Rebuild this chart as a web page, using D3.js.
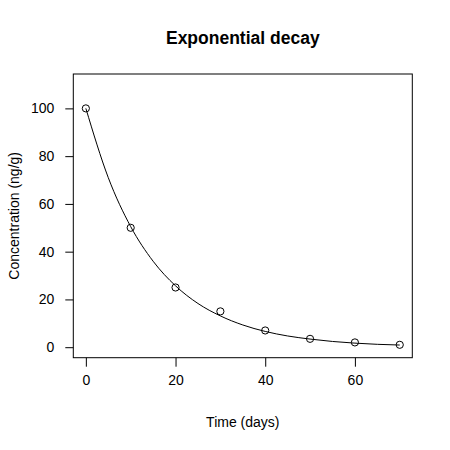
<!DOCTYPE html>
<html>
<head>
<meta charset="utf-8">
<script src="https://cdn.jsdelivr.net/npm/d3@7"></script>
<style>
    body { margin: 0; background: #fff; }
    text { font-family: "Liberation Sans", Arial, sans-serif; fill: #000; }
</style>
</head>
<body>
<svg id="chart" width="450" height="450"></svg>
<script>
// observed samples
let days = [0, 10, 20, 30, 40, 50, 60, 70];
let concentration = [100, 50, 25, 15, 7, 3.5, 2, 1];

// fitted curve
let curveDays = [0, 5, 10, 15, 20, 25, 30, 35, 40, 45, 50, 55, 60, 65, 70];
let curveValues = [100, 71, 50.5, 36, 25.7, 18.3, 13.1, 9.3, 6.6, 4.7, 3.4, 2.4, 1.7, 1.2, 0.9];

let xTicks = [0, 20, 40, 60];
let yTicks = [0, 20, 40, 60, 80, 100];

let box = { left: 73.3, right: 412.3, top: 74, bottom: 357.7 };

let svg = d3.select("#chart");

let x = d3.scaleLinear()
    .domain([-2.8, 72.8])
    .range([box.left, box.right]);
let y = d3.scaleLinear()
    .domain([-4.4, 114.4])
    .range([box.bottom, box.top]);

svg.append("rect")
    .attr("x", box.left)
    .attr("y", box.top)
    .attr("width", box.right - box.left)
    .attr("height", box.bottom - box.top)
    .attr("fill", "none")
    .attr("stroke", "#000")
    .attr("stroke-width", 1);

// axes sit a bit off the box, R style
let xAxis = svg.append("g")
    .attr("transform", `translate(0, ${box.bottom})`)
    .call(d3.axisBottom(x).tickValues(xTicks).tickSize(9).tickPadding(8).tickSizeOuter(0));
xAxis.select(".domain").attr("stroke", "none");
xAxis.selectAll("text")
    .style("font-size", "14px")
    .style("font-family", "Liberation Sans, Arial, sans-serif");

let yAxis = svg.append("g")
    .attr("transform", `translate(${box.left}, 0)`)
    .call(d3.axisLeft(y).tickValues(yTicks).tickSize(8).tickPadding(11).tickSizeOuter(0));
yAxis.select(".domain").attr("stroke", "none");
yAxis.selectAll("text")
    .style("font-size", "14px")
    .style("font-family", "Liberation Sans, Arial, sans-serif");

let line = d3.line()
    .x((d, i) => x(curveDays[i]))
    .y(d => y(d))
    .curve(d3.curveMonotoneX);

svg.append("path")
    .datum(curveValues)
    .attr("d", line)
    .attr("fill", "none")
    .attr("stroke", "#000")
    .attr("stroke-width", 1);

svg.append("g")
    .selectAll("circle")
    .data(concentration)
    .enter()
    .append("circle")
    .attr("cx", (d, i) => x(days[i]))
    .attr("cy", d => y(d))
    .attr("r", 3.6)
    .attr("fill", "none")
    .attr("stroke", "#000")
    .attr("stroke-width", 1);

svg.append("text")
    .attr("x", (box.left + box.right) / 2)
    .attr("y", 43.5)
    .attr("text-anchor", "middle")
    .style("font-size", "17.5px")
    .attr("font-weight", "bold")
    .text("Exponential decay");

svg.append("text")
    .attr("x", (box.left + box.right) / 2)
    .attr("y", 426.5)
    .attr("text-anchor", "middle")
    .style("font-size", "14px")
    .text("Time (days)");

svg.append("text")
    .attr("transform", `translate(19, ${(box.top + box.bottom) / 2}) rotate(-90)`)
    .attr("text-anchor", "middle")
    .style("font-size", "14px")
    .text("Concentration (ng/g)");
</script>
</body>
</html>
